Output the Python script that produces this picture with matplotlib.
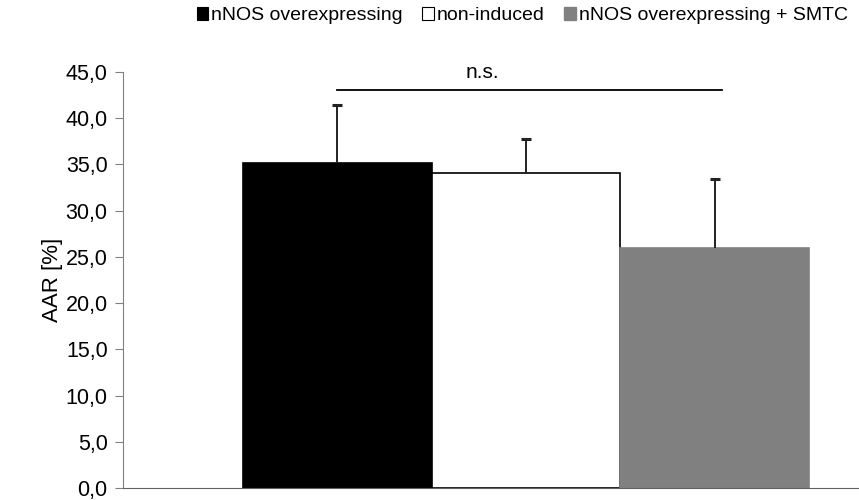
import matplotlib.pyplot as plt
from matplotlib.patches import Patch
from matplotlib.ticker import FuncFormatter

# AAR values per group (mean and upper SD)
groups = ["nNOS overexpressing", "non-induced", "nNOS overexpressing + SMTC"]
means = [35.2, 34.1, 26.0]
errors = [6.2, 3.6, 7.4]
colors = ["black", "white", "#808080"]
edges = ["black", "black", "#808080"]
y_ticks = [0, 5, 10, 15, 20, 25, 30, 35, 40, 45]
sig_label = "n.s."
sig_level = 43.05

plt.rcParams["font.family"] = ["Liberation Sans", "DejaVu Sans"]

fig = plt.figure(figsize=(8.59, 5.0), dpi=100)
ax = fig.add_axes([0.1432, 0.024, 0.8568, 0.832])

xs = list(range(len(groups)))
ax.bar(xs, means, width=1.0, color=colors, edgecolor=edges, linewidth=1.2, zorder=2)
_, caps, _ = ax.errorbar(xs, means, yerr=[[0] * len(means), errors], fmt="none",
                         ecolor="#222222", elinewidth=1.4, capsize=3.5, capthick=2.2, zorder=3)
# only the upper whisker is shown
caps[0].set_visible(False)

# significance bar across the groups
ax.plot([0.0, 2.04], [sig_level, sig_level], color="black", lw=1.3, zorder=3)
ax.text(0.77, sig_level + 0.9, sig_label, ha="center", va="bottom", fontsize=15)

ax.set_xlim(-1.136, 2.765)
ax.set_ylim(0, 45)
ax.set_yticks(y_ticks)
ax.yaxis.set_major_formatter(FuncFormatter(lambda v, _: f"{v:.1f}".replace(".", ",")))
ax.set_xticks([])
ax.tick_params(axis="y", direction="out", length=6, color="#808080", labelsize=15.5, pad=5)
ax.set_ylabel("AAR [%]", fontsize=16, labelpad=2)

for side in ("top", "right"):
    ax.spines[side].set_visible(False)
ax.spines["left"].set_color("#808080")
ax.spines["bottom"].set_color("#606060")

handles = [Patch(facecolor=c, edgecolor="black", linewidth=0.8) for c in colors]
handles[2] = Patch(facecolor=colors[2], edgecolor=colors[2])
fig.legend(handles, groups, loc="upper right", bbox_to_anchor=(1.005, 1.018), ncol=3,
           frameon=False, fontsize=14, handlelength=0.6, handleheight=0.7,
           handletextpad=0.15, columnspacing=1.0, borderpad=0.3)

fig.savefig("out.png", dpi=100)
